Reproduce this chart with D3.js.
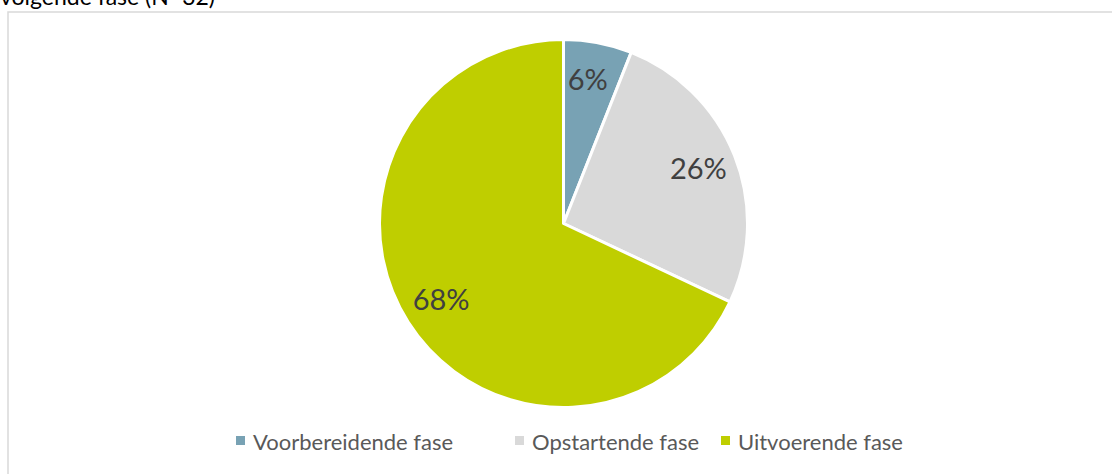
<!DOCTYPE html>
<html>
<head>
<meta charset="utf-8">
<script src="https://cdn.jsdelivr.net/npm/d3@7"></script>
<style>
  html, body { margin: 0; padding: 0; background: #fff; }
  svg { display: block; }
</style>
</head>
<body>
<svg id="chart" width="1112" height="474"></svg>
<script>
const categories = ["Voorbereidende fase", "Opstartende fase", "Uitvoerende fase"];
const values = [6, 26, 68];
const labels = ["6%", "26%", "68%"];
const colors = ["#78a2b4", "#d9d9d9", "#bfce00"];
const titleText = "volgende fase (N=32)";

const svg = d3.select("#chart");
const W = 1112, H = 474;
const font = "Lato, 'Open Sans', sans-serif";

// partially visible title (cut off at top, as in the original)
svg.append("text")
  .attr("x", 0).attr("y", 5)
  .attr("font-family", font).attr("font-size", 23)
  .attr("fill", "#000")
  .text(titleText);

// chart frame
svg.append("rect")
  .attr("x", 8).attr("y", 12)
  .attr("width", W + 20).attr("height", H + 20)
  .attr("fill", "#fff")
  .attr("stroke", "#d9d9d9").attr("stroke-width", 1.5);

const cx = 563.5, cy = 223.5, R = 184;
const pie = d3.pie().sort(null).value(d => d)(values);
const arc = d3.arc().innerRadius(0).outerRadius(R);
const labelArc = d3.arc().innerRadius(145).outerRadius(145);

const g = svg.append("g").attr("transform", `translate(${cx},${cy})`);
g.selectAll("path").data(pie).enter().append("path")
  .attr("d", arc)
  .attr("fill", (d, i) => colors[i])
  .attr("stroke", "#fff").attr("stroke-width", 3)
  .attr("stroke-linejoin", "round");

g.selectAll("text.lbl").data(pie).enter().append("text")
  .attr("class", "lbl")
  .attr("transform", d => `translate(${labelArc.centroid(d)})`)
  .attr("dx", (d, i) => i === 0 ? -3 : 0)
  .attr("dy", -3)
  .attr("text-anchor", "middle")
  .attr("dominant-baseline", "central")
  .attr("font-family", font).attr("font-size", 29)
  .attr("fill", "#404040")
  .text((d, i) => labels[i]);

// legend
const legendX = [236, 515, 721];
const lg = svg.append("g");
categories.forEach((c, i) => {
  lg.append("rect")
    .attr("x", legendX[i]).attr("y", 436)
    .attr("width", 9).attr("height", 9)
    .attr("fill", colors[i]);
  lg.append("text")
    .attr("x", legendX[i] + 17).attr("y", 441)
    .attr("dominant-baseline", "central")
    .attr("font-family", font).attr("font-size", 22)
    .attr("fill", "#595959")
    .text(c);
});
</script>
</body>
</html>
